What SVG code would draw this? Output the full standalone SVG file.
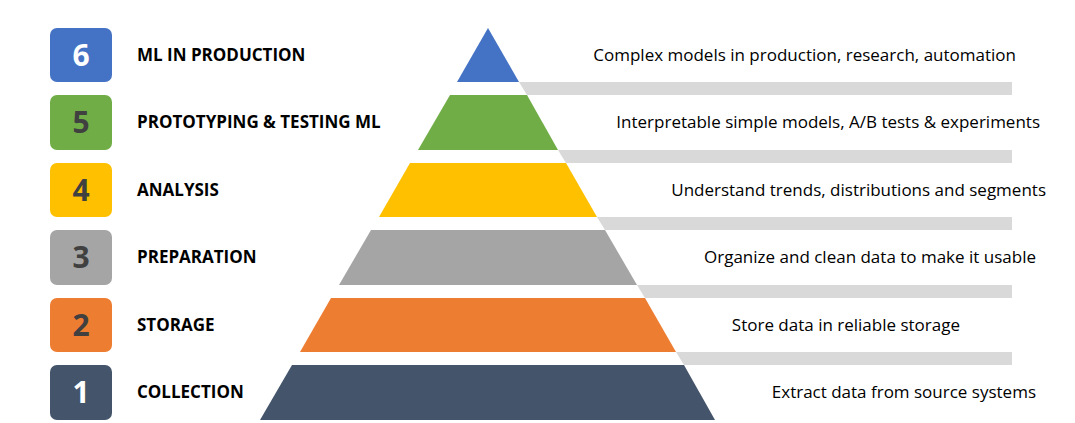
<svg xmlns="http://www.w3.org/2000/svg" width="1075" height="423" viewBox="0 0 1075 423">
<style>
.num{font-family:"Open Sans","Liberation Sans",sans-serif;font-weight:bold;font-size:30px;text-anchor:middle}
.lab{font-family:"Open Sans","Liberation Sans",sans-serif;font-weight:bold;font-size:17px;fill:#000}
.desc{font-family:"Open Sans","Liberation Sans",sans-serif;font-size:17px;fill:#000;text-anchor:end}
.bar{fill:#d9d9d9}
</style>
<rect width="1075" height="423" fill="#fff"/>
<g id="connectors">
<polygon class="bar" points="519,82 1012,82 1012,95 527,95"/>
<polygon class="bar" points="558,150 1012,150 1012,163 566,163"/>
<polygon class="bar" points="597,217 1012,217 1012,230 605,230"/>
<polygon class="bar" points="637,285 1012,285 1012,298 645,298"/>
<polygon class="bar" points="676,352 1012,352 1012,365 684,365"/>
</g>
<g id="level6"><rect x="50" y="28" width="62" height="54" rx="7" fill="#4472c4"/><text class="num" x="81" y="66" fill="#fff">6</text><text class="lab" x="137" y="61">ML IN PRODUCTION</text><polygon points="488,28 519,82 457,82" fill="#4472c4"/><text class="desc" x="1016" y="61">Complex models in production, research, automation</text></g>
<g id="level5"><rect x="50" y="95" width="62" height="55" rx="7" fill="#70ad47"/><text class="num" x="81" y="133" fill="#404040">5</text><text class="lab" x="137" y="128">PROTOTYPING &amp; TESTING ML</text><polygon points="450,95 527,95 558,150 418,150" fill="#70ad47"/><text class="desc" x="1040" y="128">Interpretable simple models, A/B tests &amp; experiments</text></g>
<g id="level4"><rect x="50" y="163" width="62" height="54" rx="7" fill="#ffc000"/><text class="num" x="81" y="201" fill="#404040">4</text><text class="lab" x="137" y="196">ANALYSIS</text><polygon points="410,163 566,163 597,217 379,217" fill="#ffc000"/><text class="desc" x="1046" y="196">Understand trends, distributions and segments</text></g>
<g id="level3"><rect x="50" y="230" width="62" height="55" rx="7" fill="#a5a5a5"/><text class="num" x="81" y="268" fill="#404040">3</text><text class="lab" x="137" y="263">PREPARATION</text><polygon points="371,230 605,230 637,285 339,285" fill="#a5a5a5"/><text class="desc" x="1036" y="263">Organize and clean data to make it usable</text></g>
<g id="level2"><rect x="50" y="298" width="62" height="54" rx="7" fill="#ed7d31"/><text class="num" x="81" y="336" fill="#404040">2</text><text class="lab" x="137" y="331">STORAGE</text><polygon points="331,298 645,298 676,352 300,352" fill="#ed7d31"/><text class="desc" x="960" y="331">Store data in reliable storage</text></g>
<g id="level1"><rect x="50" y="365" width="62" height="55" rx="7" fill="#44546a"/><text class="num" x="81" y="403" fill="#fff">1</text><text class="lab" x="137" y="398">COLLECTION</text><polygon points="292,365 684,365 715,420 260,420" fill="#44546a"/><text class="desc" x="1036" y="398">Extract data from source systems</text></g>
</svg>
